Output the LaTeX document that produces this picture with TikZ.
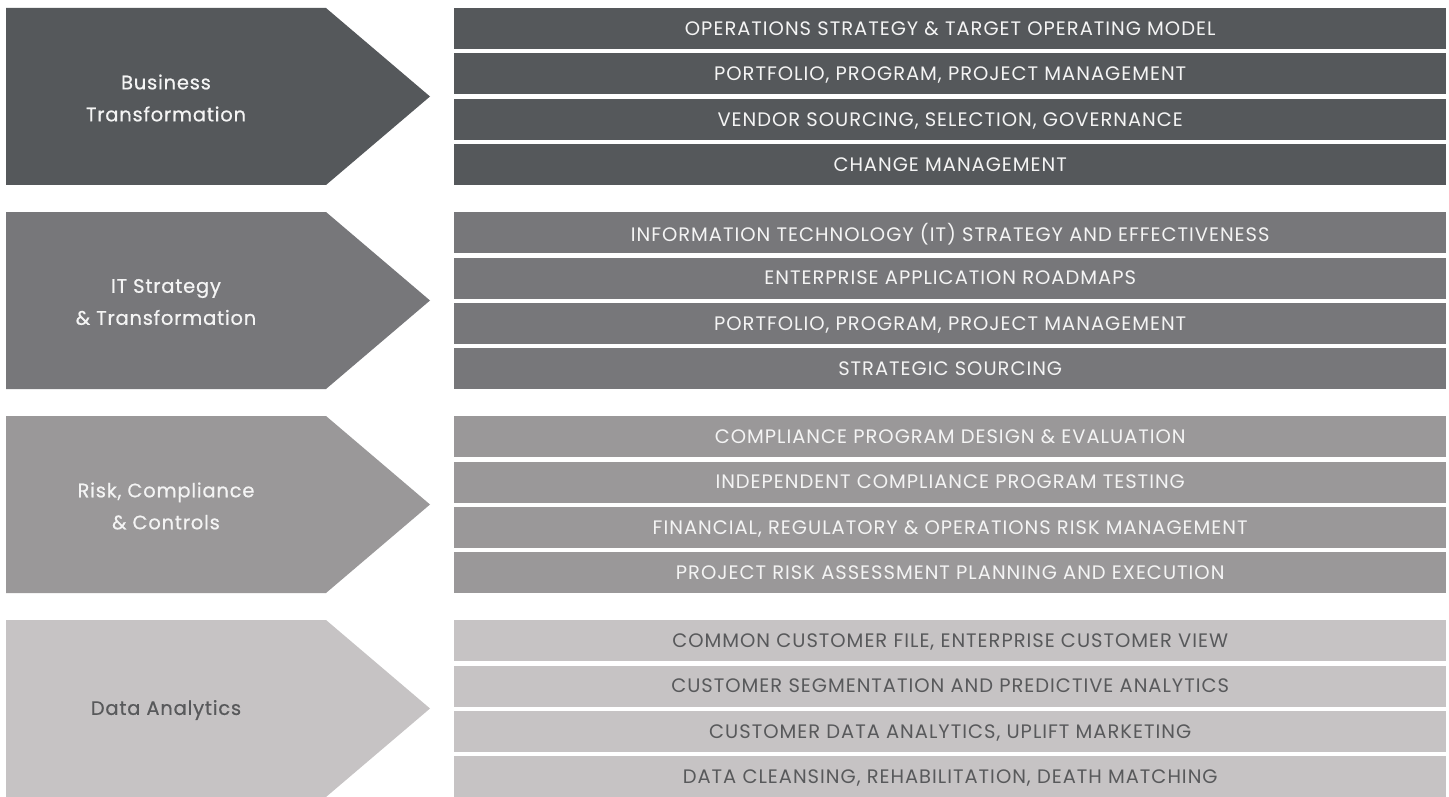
\documentclass[tikz,border=0pt]{standalone}
\usepackage{fontspec}
\setmainfont{Poppins}
\newfontfamily\barfont[LetterSpace=5]{Poppins}
\newfontfamily\labfont[LetterSpace=4,FakeBold=0.6]{Poppins}
\definecolor{cA}{HTML}{55585B}
\definecolor{cB}{HTML}{77777A}
\definecolor{cC}{HTML}{9A9899}
\definecolor{cD}{HTML}{C6C3C4}
\definecolor{tdark}{HTML}{58595B}
\definecolor{tlight}{HTML}{F4F4F4}
\tikzset{
  barbox/.style={rectangle, inner sep=0pt, minimum width=992pt, minimum height=41pt, anchor=north west, text depth=0pt, font=\barfont\fontsize{19.5}{19.5}\selectfont},
  labeltext/.style={align=center, inner sep=0pt, yshift=-1.5pt, font=\labfont\fontsize{19.5}{32}\selectfont},
}
\begin{document}
\begin{tikzpicture}[x=1pt,y=-1pt]
\useasboundingbox (0,0) rectangle (1449,797);
\fill[white] (0,0) rectangle (1449,797);
% section 1
\fill[cA] (6,8) -- (326,8) -- (430,96.5) -- (326,185) -- (6,185) -- cycle;
\node[labeltext, text=tlight] (l1) at (166,96.5) {Business\\Transformation};
\node[barbox, fill=cA, text=tlight] (b11) at (454,8) {OPERATIONS STRATEGY \& TARGET OPERATING MODEL};
\node[barbox, fill=cA, text=tlight] (b12) at (454,53.3) {PORTFOLIO, PROGRAM, PROJECT MANAGEMENT};
\node[barbox, fill=cA, text=tlight] (b13) at (454,98.7) {VENDOR SOURCING, SELECTION, GOVERNANCE};
\node[barbox, fill=cA, text=tlight] (b14) at (454,144) {CHANGE MANAGEMENT};
% section 2
\fill[cB] (6,212) -- (326,212) -- (430,300.5) -- (326,389) -- (6,389) -- cycle;
\node[labeltext, text=tlight] (l2) at (166,300.5) {IT Strategy\\\& Transformation};
\node[barbox, fill=cB, text=tlight] (b21) at (454,212) {INFORMATION TECHNOLOGY (IT) STRATEGY AND EFFECTIVENESS};
\node[barbox, fill=cB, text=tlight] (b22) at (454,257.3) {ENTERPRISE APPLICATION ROADMAPS};
\node[barbox, fill=cB, text=tlight] (b23) at (454,302.7) {PORTFOLIO, PROGRAM, PROJECT MANAGEMENT};
\node[barbox, fill=cB, text=tlight] (b24) at (454,348) {STRATEGIC SOURCING};
% section 3
\fill[cC] (6,416) -- (326,416) -- (430,504.5) -- (326,593) -- (6,593) -- cycle;
\node[labeltext, text=tlight] (l3) at (166,504.5) {Risk, Compliance\\\& Controls};
\node[barbox, fill=cC, text=tlight] (b31) at (454,416) {COMPLIANCE PROGRAM DESIGN \& EVALUATION};
\node[barbox, fill=cC, text=tlight] (b32) at (454,461.3) {INDEPENDENT COMPLIANCE PROGRAM TESTING};
\node[barbox, fill=cC, text=tlight] (b33) at (454,506.7) {FINANCIAL, REGULATORY \& OPERATIONS RISK MANAGEMENT};
\node[barbox, fill=cC, text=tlight] (b34) at (454,552) {PROJECT RISK ASSESSMENT PLANNING AND EXECUTION};
% section 4
\fill[cD] (6,620) -- (326,620) -- (430,708.5) -- (326,797) -- (6,797) -- cycle;
\node[labeltext, text=tdark] (l4) at (166,708.5) {Data Analytics};
\node[barbox, fill=cD, text=tdark] (b41) at (454,620) {COMMON CUSTOMER FILE, ENTERPRISE CUSTOMER VIEW};
\node[barbox, fill=cD, text=tdark] (b42) at (454,665.3) {CUSTOMER SEGMENTATION AND PREDICTIVE ANALYTICS};
\node[barbox, fill=cD, text=tdark] (b43) at (454,710.7) {CUSTOMER DATA ANALYTICS, UPLIFT MARKETING};
\node[barbox, fill=cD, text=tdark] (b44) at (454,756) {DATA CLEANSING, REHABILITATION, DEATH MATCHING};
\end{tikzpicture}
\end{document}
